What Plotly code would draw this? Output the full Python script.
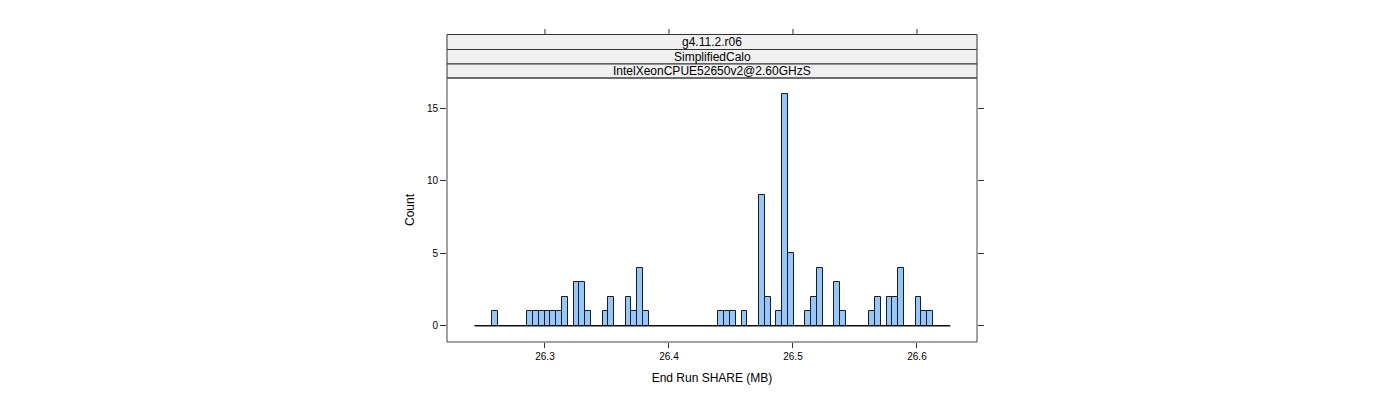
import plotly.graph_objects as go

# ---- data ----
bin_start = 26.2435
bin_width = 0.004677
counts = [0, 0, 0, 1, 0, 0, 0, 0, 0, 1,
          1, 1, 1, 1, 1, 2, 0, 3, 3, 1,
          0, 0, 1, 2, 0, 0, 2, 1, 4, 1,
          0, 0, 0, 0, 0, 0, 0, 0, 0, 0,
          0, 0, 1, 1, 1, 0, 1, 0, 0, 9,
          2, 0, 1, 16, 5, 0, 0, 1, 2, 4,
          0, 0, 3, 1, 0, 0, 0, 0, 1, 2,
          0, 2, 2, 4, 0, 0, 2, 1, 1, 0,
          0, 0]
x_ticks = [26.3, 26.4, 26.5, 26.6]
x_tick_labels = ["26.3", "26.4", "26.5", "26.6"]
y_ticks = [0, 5, 10, 15]
strip_labels = ["g4.11.2.r06", "SimplifiedCalo", "IntelXeonCPUE52650v2@2.60GHzS"]

edges = [bin_start + i * bin_width for i in range(len(counts) + 1)]
centers = [(edges[i] + edges[i + 1]) / 2 for i in range(len(counts))]

# ---- layout geometry (pixels) ----
W, H = 1400, 400
m_l, m_r, m_t, m_b = 447, 423, 78, 58
plot_h = H - m_t - m_b


def py(ypix):
    return (H - m_b - ypix) / plot_h


fig = go.Figure()
fig.add_trace(go.Scatter(x=[edges[0], edges[-1]], y=[0, 0], mode="lines",
                         line=dict(color="black", width=1), hoverinfo="skip",
                         showlegend=False))
fig.add_trace(go.Bar(x=centers, y=counts, width=bin_width,
                     marker=dict(color="#94C8FA", line=dict(color="#1a1a1a", width=1)),
                     showlegend=False))

shapes = []
# strips
strip_edges_px = [34.5, 49.5, 64, 78]
for i, lab in enumerate(strip_labels):
    y0 = py(strip_edges_px[i + 1])
    y1 = py(strip_edges_px[i])
    shapes.append(dict(type="rect", xref="paper", yref="paper", x0=0, x1=1,
                       y0=y0, y1=y1, fillcolor="#F0F0F0",
                       line=dict(color="#333333", width=1), layer="below"))
# top ticks
for t in x_ticks:
    shapes.append(dict(type="line", xref="x", yref="paper", x0=t, x1=t,
                       y0=py(34.5), y1=py(29), line=dict(color="#333333", width=1)))
# panel border
shapes.append(dict(type="rect", xref="paper", yref="paper", x0=0, x1=1, y0=0, y1=1,
                   line=dict(color="#444444", width=1)))

annotations = []
for i, lab in enumerate(strip_labels):
    yc = py((strip_edges_px[i] + strip_edges_px[i + 1]) / 2)
    annotations.append(dict(text=lab, xref="paper", yref="paper", x=0.5, y=yc,
                            showarrow=False, xanchor="center", yanchor="middle",
                            font=dict(size=12, color="black")))

fig.update_layout(
    width=W, height=H,
    margin=dict(l=m_l, r=m_r, t=m_t, b=m_b),
    paper_bgcolor="white", plot_bgcolor="white",
    font=dict(family="Liberation Sans, Arial, sans-serif", color="black"),
    bargap=0,
    shapes=shapes,
    annotations=annotations,
    xaxis=dict(range=[26.221, 26.6484], tickvals=x_ticks, ticktext=x_tick_labels,
               ticks="outside", ticklen=5, tickcolor="#333333",
               tickfont=dict(size=10), showgrid=False, zeroline=False,
               showline=False,
               title=dict(text="End Run SHARE (MB)", font=dict(size=12), standoff=12)),
    yaxis=dict(range=[-1.106, 17.1], tickvals=y_ticks,
               ticks="outside", ticklen=6, tickcolor="#333333",
               tickfont=dict(size=10), showgrid=False, zeroline=False,
               showline=False, mirror="ticks",
               title=dict(text="Count", font=dict(size=12), standoff=9)),
)

fig.write_html("out.html")
